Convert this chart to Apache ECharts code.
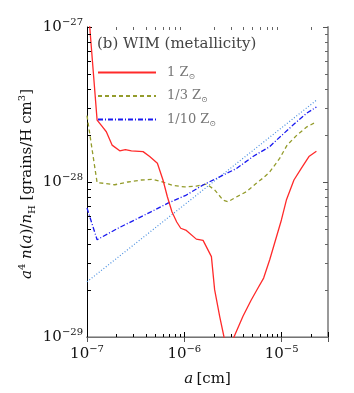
<!DOCTYPE html>
<html><head><meta charset="utf-8">
<script src="https://cdn.jsdelivr.net/npm/echarts@6.0.0/dist/echarts.min.js"></script>
<style>html,body{margin:0;padding:0;background:#fff}#c{width:354px;height:393px}</style>
</head><body><div id="c"></div>
<script>
// ---- data ----
const xMin = 1e-7, xMax = 3e-5, yMin = 1e-29, yMax = 1e-27;
const seriesNames = ['1 Z⊙', '1/3 Z⊙', '1/10 Z⊙'];
const titleText = '(b) WIM (metallicity)';

const redX = [1.0e-7, 1.27e-7, 1.41e-7, 1.58e-7, 1.81e-7, 2.17e-7, 2.48e-7, 2.86e-7, 3.77e-7, 4.41e-7, 5.29e-7, 6.04e-7, 6.70e-7, 7.48e-7, 8.36e-7, 9.19e-7, 1.05e-6, 1.33e-6, 1.56e-6, 1.90e-6, 2.05e-6, 2.31e-6, 2.56e-6, 2.86e-6, 3.24e-6, 4.01e-6, 4.89e-6, 5.72e-6, 6.54e-6, 7.55e-6, 9.96e-6, 1.12e-5, 1.34e-5, 1.60e-5, 1.91e-5, 2.28e-5];
const redY = [1.67e-27, 2.51e-28, 2.31e-28, 2.11e-28, 1.73e-28, 1.59e-28, 1.62e-28, 1.59e-28, 1.57e-28, 1.46e-28, 1.32e-28, 1.03e-28, 8.03e-29, 6.41e-29, 5.52e-29, 5.03e-29, 4.87e-29, 4.28e-29, 4.20e-29, 3.30e-29, 2.02e-29, 1.36e-29, 1.0e-29, 7.7e-30, 1.0e-29, 1.36e-29, 1.74e-29, 2.07e-29, 2.40e-29, 3.15e-29, 5.69e-29, 7.65e-29, 1.03e-28, 1.23e-28, 1.46e-28, 1.58e-28];

const greenX = [1.0e-7, 1.27e-7, 1.52e-7, 1.93e-7, 2.64e-7, 3.62e-7, 4.77e-7, 6.04e-7, 7.65e-7, 1.01e-6, 1.33e-6, 1.69e-6, 2.05e-6, 2.50e-6, 2.81e-6, 3.43e-6, 4.35e-6, 5.5e-6, 6.44e-6, 7.55e-6, 9.55e-6, 1.14e-5, 1.44e-5, 1.82e-5, 2.28e-5];
const greenY = [2.68e-28, 9.9e-29, 9.8e-29, 9.6e-29, 1.00e-28, 1.03e-28, 1.04e-28, 1.00e-28, 9.5e-29, 9.3e-29, 9.4e-29, 9.7e-29, 8.9e-29, 7.65e-29, 7.46e-29, 8.0e-29, 8.66e-29, 9.8e-29, 1.06e-28, 1.16e-28, 1.42e-28, 1.73e-28, 2.01e-28, 2.27e-28, 2.44e-28];

const blueX = [1.0e-7, 1.27e-7, 2.08e-7, 3.09e-7, 4.59e-7, 6.79e-7, 1.05e-6, 1.56e-6, 2.31e-6, 3.43e-6, 5.08e-6, 7.55e-6, 8.85e-6, 1.31e-5, 1.80e-5, 2.28e-5];
const blueY = [6.8e-29, 4.24e-29, 5.03e-29, 5.69e-29, 6.44e-29, 7.3e-29, 8.24e-29, 9.57e-29, 1.08e-28, 1.22e-28, 1.46e-28, 1.69e-28, 1.86e-28, 2.33e-28, 2.77e-28, 3.05e-28];

const dotX = [1.0e-7, 7.08e-7, 2.28e-5];
const dotY = [2.27e-29, 6.0e-29, 3.37e-28];

const xTickDecades = [-7, -6, -5];
const yTickDecades = [-29, -28, -27];

// ---- build ----
const F = 'DejaVu Serif';
const zip = (xs, ys) => xs.map((x, i) => [x, ys[i]]);

const minorData = [];
xTickDecades.forEach(d => { for (let m = 2; m <= 9; m++) { const v = m * Math.pow(10, d); if (v < xMax) minorData.push([v, yMin, 0]); } });
yTickDecades.forEach(d => { for (let m = 2; m <= 9; m++) { const v = m * Math.pow(10, d); if (v < yMax) minorData.push([xMin, v, 1]); } });

const labelData = [];
xTickDecades.forEach(d => labelData.push([Math.pow(10, d), yMin, 0, d]));
yTickDecades.forEach(d => labelData.push([xMin, Math.pow(10, d), 1, d]));

const labelRich = {
  b: {fontFamily: F, fontSize: 15, lineHeight: 20, fill: '#111'},
  e: {fontFamily: F, fontSize: 10, lineHeight: 11, verticalAlign: 'top', fill: '#111'}
};

const chart = echarts.init(document.getElementById('c'), null, {renderer: 'canvas'});
const option = {
  animation: false,
  backgroundColor: '#fff',
  title: {text: titleText, left: 97, top: 37, padding: 0, textStyle: {fontFamily: F, fontSize: 15, fontWeight: 'normal', color: '#444'}},
  legend: {
    data: seriesNames, orient: 'vertical', left: 97, top: 66, padding: 0,
    itemWidth: 58, itemHeight: 14, itemGap: 9,
    itemStyle: {opacity: 0},
    formatter: name => '{n|' + name.split(' ')[0] + ' Z}{s|\u2299}',
    textStyle: {color: '#777', padding: [0, 0, 0, 6], rich: {
      n: {fontFamily: F, fontSize: 13, lineHeight: 16, color: '#777'},
      s: {fontFamily: F, fontSize: 8, lineHeight: 8, verticalAlign: 'bottom', color: '#777'}
    }}
  },
  graphic: [{
    type: 'text', x: 27, y: 184, rotation: Math.PI / 2, silent: true,
    style: {
      text: '{i|a}{sup|4}{i| n}{r|(}{i|a}{r|)/}{i|n}{sub|H}{r| [grains/H cm}{sup|3}{r|]}',
      align: 'center', verticalAlign: 'middle',
      rich: {
        i: {fontFamily: F, fontStyle: 'italic', fontSize: 15, lineHeight: 20, fill: '#111'},
        r: {fontFamily: F, fontSize: 15, lineHeight: 20, fill: '#111'},
        sup: {fontFamily: F, fontSize: 10, lineHeight: 10, verticalAlign: 'top', fill: '#111'},
        sub: {fontFamily: F, fontSize: 10, lineHeight: 10, verticalAlign: 'bottom', fill: '#111'}
      }
    }
  }],
  grid: {left: 87, top: 27, right: 26, bottom: 56, containLabel: false, outerBoundsMode: 'none'},
  xAxis: [
    {type: 'log', logBase: 10, min: xMin, max: xMax, position: 'bottom', gridIndex: 0,
     axisLine: {lineStyle: {color: '#000', width: 1}},
     axisTick: {inside: true, length: 5, lineStyle: {color: '#000'}},
     splitLine: {show: false},
     axisLabel: {show: false},
     name: '{i|a} {r|[cm]}', nameLocation: 'middle', nameGap: 35,
     nameTextStyle: {rich: {
       i: {fontFamily: F, fontStyle: 'italic', fontSize: 15, color: '#111'},
       r: {fontFamily: F, fontSize: 15, color: '#111'}}}
    },
    {type: 'log', logBase: 10, min: xMin, max: xMax, position: 'top', gridIndex: 0,
     axisLine: {lineStyle: {color: '#999', width: 1.5}},
     axisTick: {inside: true, length: 5, lineStyle: {color: '#555'}},
     splitLine: {show: false}, axisLabel: {show: false}}
  ],
  yAxis: [
    {type: 'log', logBase: 10, min: yMin, max: yMax, position: 'left', gridIndex: 0,
     axisLine: {lineStyle: {color: '#000', width: 1}},
     axisTick: {inside: true, length: 5, lineStyle: {color: '#000'}},
     splitLine: {show: false},
     axisLabel: {show: false}
    },
    {type: 'log', logBase: 10, min: yMin, max: yMax, position: 'right', gridIndex: 0,
     axisLine: {lineStyle: {color: '#999', width: 2}},
     axisTick: {inside: true, length: 5, lineStyle: {color: '#555'}},
     splitLine: {show: false}, axisLabel: {show: false}}
  ],
  series: [
    {name: seriesNames[0], type: 'line', data: zip(redX, redY), symbol: 'none', showSymbol: false,
     lineStyle: {color: '#ff2a2a', width: 1.3, type: 'solid'}, itemStyle: {color: '#ff2a2a'}, clip: true, z: 5},
    {name: seriesNames[1], type: 'line', data: zip(greenX, greenY), symbol: 'none', showSymbol: false,
     lineStyle: {color: '#949c2c', width: 1.3, type: [4, 3]}, itemStyle: {color: '#949c2c'}, clip: true, z: 4},
    {name: seriesNames[2], type: 'line', data: zip(blueX, blueY), symbol: 'none', showSymbol: false,
     lineStyle: {color: '#1a1af0', width: 1.3, type: [5, 2, 1, 2]}, itemStyle: {color: '#1a1af0'}, clip: true, z: 4},
    {name: 'dotted', type: 'line', data: zip(dotX, dotY), symbol: 'none', showSymbol: false,
     lineStyle: {color: '#4a8fe0', width: 1.2, type: [1, 2]}, clip: true, z: 3},
    {name: 'minor', type: 'custom', silent: true, clip: false, z: 10, data: minorData,
     renderItem: (params, api) => {
       const cs = params.coordSys;
       const kind = api.value(2);
       const L = 3;
       if (kind === 0) {
         const px = Math.round(api.coord([api.value(0), yMin])[0]) + 0.5;
         return {type: 'group', children: [
           {type: 'line', shape: {x1: px, y1: cs.y + cs.height, x2: px, y2: cs.y + cs.height - L}, style: {stroke: '#000', lineWidth: 1}},
           {type: 'line', shape: {x1: px, y1: cs.y, x2: px, y2: cs.y + L}, style: {stroke: '#666', lineWidth: 1}}]};
       }
       const py = Math.round(api.coord([xMin, api.value(1)])[1]) + 0.5;
       return {type: 'group', children: [
         {type: 'line', shape: {x1: cs.x, y1: py, x2: cs.x + L + 1, y2: py}, style: {stroke: '#000', lineWidth: 1}},
         {type: 'line', shape: {x1: cs.x + cs.width, y1: py, x2: cs.x + cs.width - L, y2: py}, style: {stroke: '#666', lineWidth: 1}}]};
     }},
    {name: 'ticklabels', type: 'custom', silent: true, clip: false, z: 10, data: labelData,
     renderItem: (params, api) => {
       const cs = params.coordSys;
       const kind = api.value(2);
       const d = api.value(3);
       const text = '{b|10}{e|\u2212' + Math.abs(d) + '}';
       if (kind === 0) {
         const px = api.coord([api.value(0), yMin])[0];
         return {type: 'text', x: px, y: cs.y + cs.height + 7,
           style: {text, align: 'center', verticalAlign: 'top', rich: labelRich}};
       }
       const py = api.coord([xMin, api.value(1)])[1];
       return {type: 'text', x: cs.x - 4, y: py,
         style: {text, align: 'right', verticalAlign: 'middle', rich: labelRich}};
     }}
  ]
};
chart.setOption(option);
</script>
</body></html>
